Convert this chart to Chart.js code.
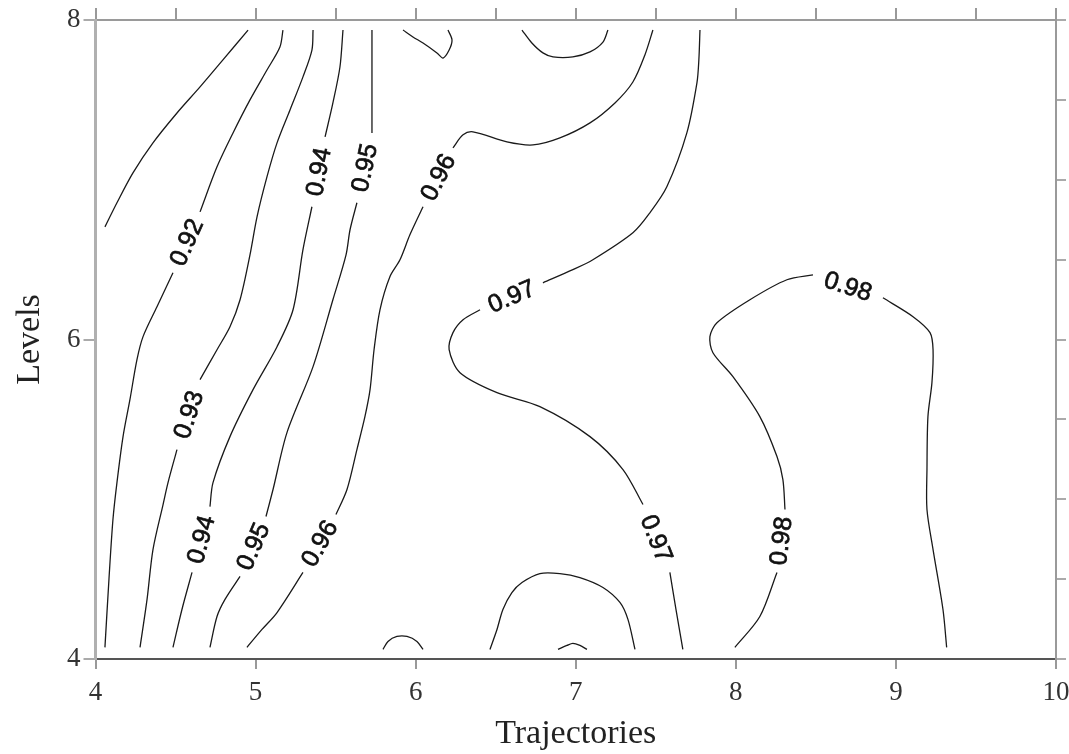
<!DOCTYPE html>
<html>
<head>
<meta charset="utf-8">
<script src="https://cdn.jsdelivr.net/npm/chart.js@4/dist/chart.umd.min.js"></script>
<style>
  html, body { margin: 0; padding: 0; background: #fff; }
  #wrap { width: 1069px; height: 754px; }
</style>
</head>
<body>
<div id="wrap"><canvas id="chart" width="1069" height="754"></canvas></div>
<script>
// Axis tick values
const xTicks = [4, 5, 6, 7, 8, 9, 10];
const yTicks = [4, 6, 8];
const xTitle = 'Trajectories';
const yTitle = 'Levels';

// Contour polylines in (trajectory, level) units; null marks the break where the value label sits
const level091 = 0.91;
const line091 = [[4.059,6.705],[4.134,6.856],[4.234,7.043],[4.359,7.231],[4.509,7.418],[4.653,7.581],[4.796,7.750],[4.953,7.937]];

const level092 = 0.92;
const line092 = [[5.171,7.937],[5.152,7.831],[5.071,7.687],[4.965,7.500],[4.859,7.293],[4.759,7.081],[4.653,6.799],
  null,
  [4.484,6.418],[4.384,6.205],[4.297,6.018],[4.259,5.874],[4.215,5.623],[4.172,5.392],[4.134,5.104],[4.109,4.873],[4.084,4.498],[4.059,4.073]];

const level093 = 0.93;
const line093 = [[5.359,7.937],[5.352,7.812],[5.296,7.644],[5.215,7.437],[5.134,7.231],[5.071,7.018],[5.009,6.768],[4.965,6.530],[4.903,6.249],[4.840,6.080],[4.759,5.936],[4.653,5.749],
  null,
  [4.509,5.311],[4.453,5.104],[4.422,4.967],[4.359,4.685],[4.322,4.373],[4.278,4.073]];

const level094 = 0.94;
const line094 = [[5.546,7.937],[5.527,7.706],[5.483,7.481],[5.434,7.268],
  null,
  [5.352,6.831],[5.296,6.562],[5.234,6.186],[5.134,5.955],[4.984,5.686],[4.840,5.392],[4.734,5.104],[4.715,4.954],
  null,
  [4.603,4.542],[4.540,4.310],[4.484,4.073]];

const level095 = 0.95;
const line095 = [[5.727,7.937],[5.727,7.606],[5.727,7.293],
  null,
  [5.633,6.856],[5.590,6.687],[5.565,6.530],[5.483,6.249],[5.359,5.830],[5.196,5.417],[5.109,5.061],[5.065,4.892],
  null,
  [4.903,4.517],[4.809,4.373],[4.759,4.266],[4.715,4.073]];

const level096 = 0.96;
const line096 = [[7.482,7.937],[7.432,7.781],[7.357,7.612],[7.245,7.481],[7.089,7.356],[6.901,7.262],[6.733,7.218],[6.570,7.237],[6.358,7.300],[6.296,7.281],[6.233,7.200],
  null,
  [6.046,6.831],[5.964,6.655],[5.902,6.499],[5.839,6.393],[5.777,6.186],[5.740,5.936],[5.715,5.686],[5.683,5.517],[5.633,5.311],[5.571,5.061],[5.502,4.904],
  null,
  [5.296,4.542],[5.134,4.291],[5.040,4.185],[4.946,4.073]];

const level097 = 0.97;
const line097 = [[7.776,7.937],[7.769,7.750],[7.757,7.606],[7.694,7.293],[7.569,6.956],[7.463,6.793],[7.357,6.668],[7.107,6.499],[6.982,6.437],[6.795,6.355],
  null,
  [6.402,6.186],[6.296,6.124],[6.233,6.043],[6.209,5.936],[6.277,5.792],[6.508,5.667],[6.776,5.580],[7.089,5.392],[7.295,5.186],[7.420,4.967],
  null,
  [7.588,4.542],[7.626,4.310],[7.669,4.060]];

const level098 = 0.98;
const line098 = [[7.994,4.073],[8.150,4.266],[8.257,4.542],
  null,
  [8.307,4.936],[8.294,5.123],[8.257,5.267],[8.150,5.517],[7.982,5.767],[7.857,5.917],[7.838,6.018],[7.882,6.105],[8.088,6.249],[8.319,6.374],[8.482,6.405],
  null,
  [8.919,6.261],[9.107,6.143],[9.213,6.043],[9.232,5.936],[9.225,5.730],[9.200,5.517],[9.194,5.186],[9.194,4.936],[9.232,4.685],[9.294,4.310],[9.317,4.073]];

// Small closed pockets touching the top and bottom edges (unlabelled)
const levelPocket = 0.96;
const pocketTopA = [[5.921,7.937],[5.983,7.894],[6.046,7.856],[6.133,7.794],[6.171,7.762],[6.209,7.812],[6.227,7.875],[6.202,7.937]];
const pocketTopB = [[6.664,7.937],[6.726,7.856],[6.795,7.794],[6.858,7.769],[6.982,7.769],[7.089,7.800],[7.170,7.862],[7.201,7.937]];
const pocketBottomA = [[5.796,4.060],[5.827,4.110],[5.883,4.141],[5.946,4.141],[6.008,4.110],[6.046,4.060]];
const pocketBottomB = [[6.464,4.060],[6.508,4.185],[6.545,4.310],[6.601,4.416],[6.664,4.479],[6.776,4.535],[6.901,4.535],[7.026,4.510],[7.170,4.448],[7.276,4.354],[7.326,4.248],[7.370,4.060]];
const pocketBottomC = [[6.889,4.060],[6.945,4.085],[6.982,4.098],[7.026,4.085],[7.070,4.060]];

const contours = [
  [level091, line091], [level092, line092], [level093, line093], [level094, line094],
  [level095, line095], [level096, line096], [level097, line097], [level098, line098],
  [levelPocket, pocketTopA], [levelPocket, pocketTopB],
  [levelPocket, pocketBottomA], [levelPocket, pocketBottomB], [levelPocket, pocketBottomC]
];

const toPoints = arr => arr.map(p => p ? { x: p[0], y: p[1] } : { x: null, y: null });

const datasets = contours.map(([lvl, pts]) => ({
  label: lvl.toFixed(2),
  level: lvl,
  data: toPoints(pts),
  showLine: true,
  borderColor: '#1a1a1a',
  borderWidth: 1.3,
  pointRadius: 0,
  tension: 0.3,
  spanGaps: false
}));

// Writes each contour's value inside the breaks of its line, turned along the line
const contourLabels = {
  id: 'contourLabels',
  afterDatasetsDraw(chart) {
    const { ctx } = chart;
    const xs = chart.scales.x, ys = chart.scales.y;
    chart.data.datasets.forEach(ds => {
      const pts = ds.data;
      for (let i = 1; i < pts.length - 1; i++) {
        if (pts[i].y !== null) continue;
        const a = pts[i - 1], b = pts[i + 1];
        const ax = xs.getPixelForValue(a.x), ay = ys.getPixelForValue(a.y);
        const bx = xs.getPixelForValue(b.x), by = ys.getPixelForValue(b.y);
        let ang = Math.atan2(by - ay, bx - ax);
        if (ang > Math.PI / 2) ang -= Math.PI;
        else if (ang <= -Math.PI / 2) ang += Math.PI;
        ctx.save();
        ctx.translate((ax + bx) / 2, (ay + by) / 2);
        ctx.rotate(ang);
        ctx.font = '25px "Liberation Sans", Arial, sans-serif';
        ctx.fillStyle = '#111';
        ctx.strokeStyle = '#111';
        ctx.lineWidth = 0.7;
        ctx.textAlign = 'center';
        ctx.textBaseline = 'middle';
        ctx.fillText(ds.level.toFixed(2), 0, 1);
        ctx.strokeText(ds.level.toFixed(2), 0, 1);
        ctx.restore();
      }
    });
  }
};

const serif = '"Liberation Serif", "Times New Roman", serif';

// Fixed scale boxes so the plotting frame keeps its place regardless of label overhang
const fixBox = (w, h) => s => {
  if (w !== null) s.width = w;
  if (h !== null) s.height = h;
  s.paddingLeft = 0; s.paddingRight = 0; s.paddingTop = 0; s.paddingBottom = 0;
};

new Chart(document.getElementById('chart'), {
  type: 'scatter',
  data: { datasets },
  plugins: [contourLabels],
  options: {
    responsive: false,
    animation: false,
    layout: { padding: 0 },
    plugins: { legend: { display: false }, tooltip: { enabled: false } },
    scales: {
      x: {
        type: 'linear', position: 'bottom', min: 4, max: 10,
        afterBuildTicks: s => { s.ticks = xTicks.map(v => ({ value: v })); },
        ticks: { font: { family: serif, size: 27 }, color: '#333', padding: 8, maxRotation: 0 },
        grid: { drawOnChartArea: false, drawTicks: true, tickLength: 10, color: '#999', lineWidth: 2 },
        border: { display: true, color: '#555', width: 2 },
        title: { display: true, text: xTitle, font: { family: serif, size: 34 }, color: '#222', padding: { top: 0, bottom: 0 } },
        afterFit: fixBox(null, 95)
      },
      x2: {
        type: 'linear', position: 'top', min: 4, max: 10,
        ticks: { stepSize: 0.5, display: false },
        grid: { drawOnChartArea: false, drawTicks: true, tickLength: 12, color: '#999', lineWidth: 2 },
        border: { display: true, color: '#9a9a9a', width: 2 },
        afterFit: fixBox(null, 20)
      },
      y: {
        type: 'linear', position: 'left', min: 4, max: 8,
        afterBuildTicks: s => { s.ticks = yTicks.map(v => ({ value: v })); },
        ticks: { font: { family: serif, size: 27 }, color: '#333', padding: 3 },
        grid: { drawOnChartArea: false, drawTicks: true, tickLength: 12, color: '#aaa', lineWidth: 2 },
        border: { display: true, color: '#b0b0b0', width: 3 },
        title: { display: true, text: yTitle, font: { family: serif, size: 34 }, color: '#222', padding: { top: 10, bottom: 0 } },
        afterFit: fixBox(95.5, null)
      },
      y2: {
        type: 'linear', position: 'right', min: 4, max: 8,
        ticks: { stepSize: 0.5, display: false },
        grid: { drawOnChartArea: false, drawTicks: true, tickLength: 10, color: '#aaa', lineWidth: 2 },
        border: { display: true, color: '#9a9a9a', width: 2 },
        afterFit: fixBox(13, null)
      }
    }
  }
});
</script>
</body>
</html>
